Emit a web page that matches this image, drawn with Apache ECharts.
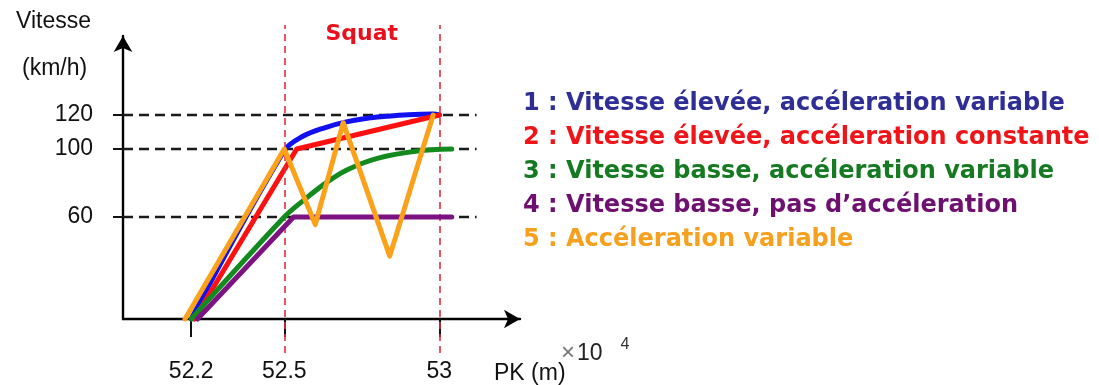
<!DOCTYPE html>
<html>
<head>
<meta charset="utf-8">
<script src="https://cdn.jsdelivr.net/npm/echarts@6/dist/echarts.min.js"></script>
<style>html,body{margin:0;padding:0;background:#fff}#c{width:1099px;height:385px}</style>
</head>
<body>
<div id="c"></div>
<script>
// ---- data (PK in 10^4 m, speed in km/h) ----
const xTicks = [52.2, 52.5, 53];
const yTicks = [60, 100, 120];
const squatZone = [52.5, 53];
const refEndPK = 53.12;

const names = [
  '1 : Vitesse élevée, accéleration variable',
  '2 : Vitesse élevée, accéleration constante',
  '3 : Vitesse basse, accéleration variable',
  '4 : Vitesse basse, pas d\u2019accéleration',
  '5 : Accéleration variable'
];
const s1 = [[52.2,0],[52.5,99],[52.56,107.5],[52.63,112.5],[52.7,116],[52.8,118.8],[52.9,120.2],[52.98,120.6],[53,120]];
const s2 = [[52.21,0],[52.54,100],[53,120]];
const s3 = [[52.2,0],[52.5,60],[52.56,69.5],[52.63,79.5],[52.7,87.5],[52.8,94.5],[52.93,98.8],[53.04,100]];
const s4 = [[52.22,0],[52.53,60],[53.04,60]];
const s5 = [[52.18,0],[52.5,100],[52.6,55.5],[52.69,115.5],[52.84,37],[52.98,120]];

const lineColors = ['#1010f0','#ff1010','#138a1e','#7d1283','#fba21a'];
const textColors = ['#2e2e96','#f01418','#167a22','#6e106f','#f6a01e'];
const smoothOf = [0.35, false, 0.35, false, false];

const chart = echarts.init(document.getElementById('c'));
const XMIN = 51.98, XMAX = 53.26;
const seriesData = [s1, s2, s3, s4, s5];
const drawOrder = [2, 3, 0, 1, 4];

const series = [];
yTicks.forEach(v => {
  series.push({
    type: 'line', xAxisIndex: 0, yAxisIndex: 0, silent: true, symbol: 'none',
    data: [[XMIN, v], [refEndPK, v]],
    lineStyle: { color: '#1a1a1a', width: 2.4, type: [10, 6] }, z: 1
  });
});
drawOrder.forEach(i => {
  series.push({
    name: names[i], type: 'line', xAxisIndex: 0, yAxisIndex: 0, symbol: 'none',
    data: seriesData[i], clip: false, smooth: smoothOf[i],
    lineStyle: { color: lineColors[i], width: 5, join: 'round', cap: 'round' },
    itemStyle: { color: lineColors[i] }, z: 3 + i
  });
});
series.push({
  type: 'line', xAxisIndex: 1, yAxisIndex: 1, data: [], silent: true,
  markLine: {
    symbol: 'none', silent: true, label: { show: false },
    lineStyle: { color: '#e0303c', width: 1.6, type: [7, 5] },
    data: squatZone.map(v => ({ xAxis: v }))
  },
  markArea: {
    silent: true, itemStyle: { color: 'rgba(0,0,0,0)' },
    label: { show: true, position: 'insideTop', distance: -2, color: '#e8101c',
      fontFamily: 'DejaVu Sans', fontWeight: 'bold', fontSize: 22 },
    data: [[{ xAxis: squatZone[0], name: 'Squat' }, { xAxis: squatZone[1] }]]
  }
});

const plain = { fontFamily: 'Liberation Sans', fontWeight: 'normal', color: '#111' };
chart.setOption({
  animation: false,
  backgroundColor: '#fff',
  title: [
    { text: 'Vitesse', left: 11, top: 5, textStyle: Object.assign({ fontSize: 23 }, plain) },
    { text: '(km/h)', left: 17, top: 52, textStyle: Object.assign({ fontSize: 23 }, plain) },
    { text: 'PK (m)', left: 489, top: 357, textStyle: Object.assign({ fontSize: 23 }, plain) },
    { text: '{x|\u00d7}{n|10}{e|4}', left: 556, top: 332, textStyle: { fontWeight: 'normal', rich: {
        x: { fontFamily: 'Liberation Sans', fontWeight: 'normal', fontSize: 24, color: '#777', verticalAlign: 'bottom', padding: [0,2,0,0] },
        n: { fontFamily: 'Liberation Sans', fontWeight: 'normal', fontSize: 23, color: '#222', verticalAlign: 'bottom' },
        e: { fontFamily: 'Liberation Sans', fontWeight: 'normal', fontSize: 16, color: '#333', verticalAlign: 'top', padding: [0,0,12,18] } } } }
  ],
  legend: {
    orient: 'vertical', left: 513, top: 87, icon: 'none', itemWidth: 0, itemHeight: 0, itemGap: 10,
    selectedMode: false,
    textStyle: { fontFamily: 'DejaVu Sans', fontWeight: 'bold', fontSize: 24, lineHeight: 24 },
    data: names.map((n, i) => ({ name: n, textStyle: { color: textColors[i] } }))
  },
  grid: [
    { left: 123, right: 579, top: 36, bottom: 66 },
    { left: 123, right: 579, top: 25, bottom: 32 }
  ],
  xAxis: [
    { type: 'value', gridIndex: 0, min: XMIN, max: XMAX,
      axisLine: { show: true, onZero: false, symbol: ['none', 'arrow'], symbolSize: [14, 16], lineStyle: { color: '#000', width: 2.4 } },
      axisTick: { show: true, customValues: xTicks, length: 18, lineStyle: { color: '#111', width: 2 } },
      axisLabel: { customValues: xTicks, margin: 41, fontFamily: 'Liberation Sans', fontSize: 23, color: '#111', formatter: v => String(v) },
      splitLine: { show: false } },
    { type: 'value', gridIndex: 1, min: XMIN, max: XMAX, show: false }
  ],
  yAxis: [
    { type: 'value', gridIndex: 0, min: 0, max: 166.5,
      axisLine: { show: true, onZero: false, symbol: ['none', 'arrow'], symbolSize: [14, 16], lineStyle: { color: '#000', width: 2.4 } },
      axisTick: { show: true, customValues: yTicks, length: 10, lineStyle: { color: '#111', width: 2 } },
      axisLabel: { customValues: yTicks, margin: 30, fontFamily: 'Liberation Sans', fontSize: 23, color: '#111' },
      splitLine: { show: false } },
    { type: 'value', gridIndex: 1, min: 0, max: 1, show: false }
  ],
  series: series
});
</script>
</body>
</html>
